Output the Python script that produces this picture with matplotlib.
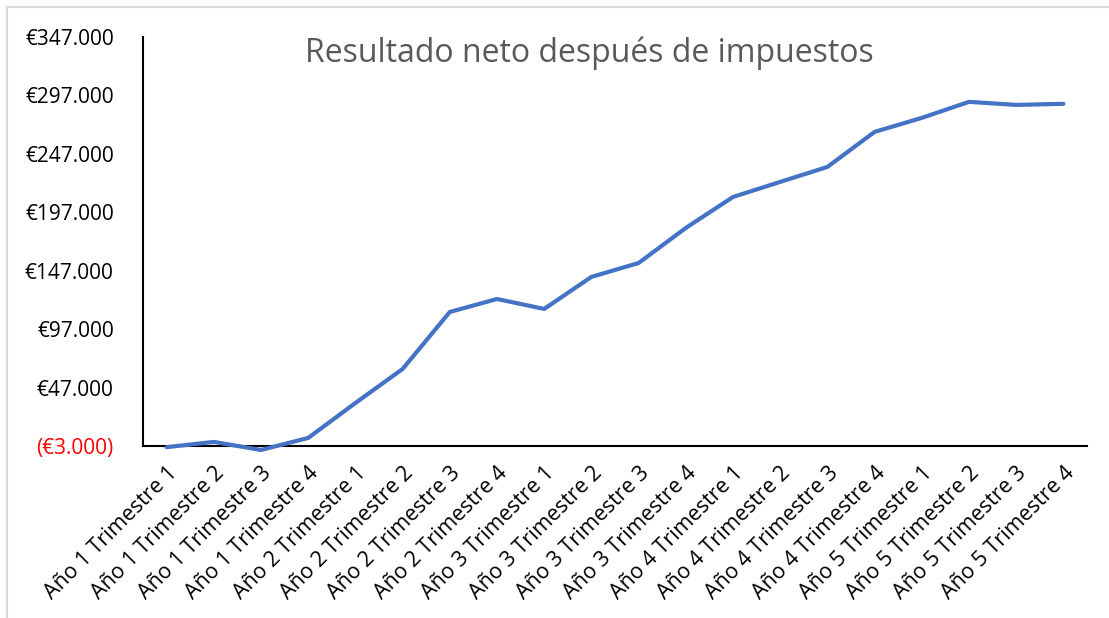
import matplotlib
matplotlib.use('Agg')
import matplotlib.pyplot as plt
from matplotlib.lines import Line2D

# Data
years = [1, 2, 3, 4, 5]
quarters = [1, 2, 3, 4]
labels = ['Año %d Trimestre %d' % (y, q) for y in years for q in quarters]
net_result = [-4000, 500, -6400, 3900, 33800, 62900, 111700, 122800, 114300, 141700,
              153600, 183600, 210100, 223000, 235800, 265800, 277800, 291500, 288900, 289800]
y_ticks = [-3000, 47000, 97000, 147000, 197000, 247000, 297000, 347000]

plt.rcParams['font.family'] = ['Open Sans', 'DejaVu Sans']


def euro_fmt(v):
    s = '€' + format(abs(v), ',').replace(',', '.')
    if v < 0:
        return '(' + s + ')'
    return s


fig = plt.figure(figsize=(11.09, 6.18), dpi=100)
ax = fig.add_axes([143 / 1109, 1 - 446 / 618, (1087 - 143) / 1109, (446 - 37) / 618])

x = range(len(net_result))
ax.plot(x, net_result, color='#4472C4', linewidth=3, solid_capstyle='round', clip_on=False, zorder=3)

ax.set_xlim(-0.5, len(net_result) - 0.5)
ax.set_ylim(y_ticks[0], y_ticks[-1])
ax.set_yticks(y_ticks)
ax.set_yticklabels([euro_fmt(v) for v in y_ticks], fontsize=15)
ax.get_yticklabels()[0].set_color('red')
ax.set_xticks(list(x))
ax.set_xticklabels(labels, rotation=45, ha='right', rotation_mode='anchor', fontsize=15.5)
ax.tick_params(axis='both', length=0)
ax.tick_params(axis='x', pad=12)
ax.tick_params(axis='y', pad=21)

for s in ['top', 'right']:
    ax.spines[s].set_visible(False)
for s in ['left', 'bottom']:
    ax.spines[s].set_linewidth(1.5)
    ax.spines[s].set_color('black')

fig.text(589 / 1109, 1 - 53 / 618, 'Resultado neto después de impuestos',
         ha='center', va='center', fontsize=23, color='#595959')

# screenshot border
fig.add_artist(Line2D([7 / 1109, 7 / 1109], [0, 1 - 7 / 618], color='#d9d9d9', linewidth=1.5))
fig.add_artist(Line2D([7 / 1109, 1], [1 - 7 / 618, 1 - 7 / 618], color='#d9d9d9', linewidth=1.5))

fig.savefig('out.png', dpi=100)
